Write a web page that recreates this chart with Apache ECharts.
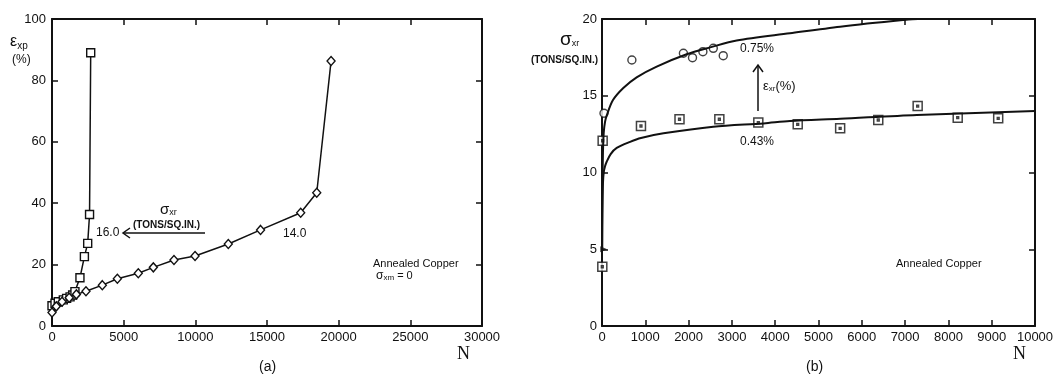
<!DOCTYPE html>
<html><head><meta charset="utf-8">
<script src="https://cdn.jsdelivr.net/npm/echarts@6/dist/echarts.min.js"></script>
<style>html,body{margin:0;padding:0;background:#fff}#c{width:1060px;height:389px}</style>
</head><body><div id="c"></div>
<script>
// ---------- Panel (a): eps_xp (%) vs N ----------
const aXTicks = [0, 5000, 10000, 15000, 20000, 25000, 30000];
const aYTicks = [0, 20, 40, 60, 80, 100];
// sigma_xr = 16.0 tons/sq.in. (squares)
const aSigma16 = [[0,6.6],[210,7.4],[440,7.9],[790,8.5],[1020,9.0],[1260,9.5],[1440,10.1],[1600,11.2],[1950,15.7],[2260,22.6],[2490,26.9],[2620,36.3],[2700,89]];
// sigma_xr = 14.0 tons/sq.in. (diamonds)
const aSigma14 = [[0,4.4],[300,6.4],[700,7.9],[1200,9.2],[1700,10.3],[2370,11.3],[3510,13.3],[4560,15.4],[6020,17.2],[7070,19.1],[8510,21.5],[9980,22.8],[12300,26.7],[14550,31.3],[17350,36.9],[18470,43.4],[19470,86.3]];

// ---------- Panel (b): sigma_xr vs N ----------
const bXTicks = [0,1000,2000,3000,4000,5000,6000,7000,8000,9000,10000];
const bYTicks = [0, 5, 10, 15, 20];
// eps_xr = 0.75 % (circles)
const bEps075 = [[46,13.86],[690,17.33],[1880,17.77],[2090,17.48],[2330,17.87],[2570,18.09],[2800,17.61]];
// eps_xr = 0.43 % (squares)
const bEps043 = [[7,3.86],[15,12.07],[900,13.03],[1790,13.47],[2710,13.47],[3610,13.25],[4520,13.14],[5500,12.88],[6380,13.42],[7290,14.33],[8215,13.57],[9150,13.53]];
// common start point of both curves
const bOrigin = [[40,5]];
// fitted curves
const bCurve075 = [[3,5],[6,7.5],[12,9.5],[22,11.3],[40,12.6],[70,13.3],[108,13.7],[250,14.7],[492,15.5],[800,16.2],[1263,16.9],[1955,17.7],[2500,18.15],[3110,18.6],[4340,19.07],[5500,19.5],[6950,19.93],[7300,20],[8000,20]];
const bCurve043 = [[3,5],[6,6.6],[12,8.1],[22,9.3],[40,10.0],[70,10.4],[108,10.7],[200,11.2],[340,11.6],[650,12.0],[900,12.25],[1420,12.55],[2570,12.98],[3730,13.2],[4340,13.35],[5500,13.5],[7270,13.75],[10000,14.0]];

const FONT = 'Liberation Sans, Arial, sans-serif';
const INK = '#111';
const chart = echarts.init(document.getElementById('c'), null, {renderer: 'canvas'});

function axisCommon(min, max, interval) {
  return {type: 'value', min, max, interval,
    axisLine: {onZero: false, lineStyle: {color: INK, width: 2}},
    axisTick: {inside: true, length: 6, lineStyle: {color: INK, width: 1.5}},
    splitLine: {show: false}};
}
function xAxes(gi, ticks) {
  const min = ticks[0], max = ticks[ticks.length-1], iv = ticks[1]-ticks[0];
  return [
    Object.assign(axisCommon(min, max, iv), {gridIndex: gi, position: 'bottom',
      axisLabel: {color: INK, fontSize: 13, fontFamily: FONT, margin: 5, formatter: v => String(v)}}),
    Object.assign(axisCommon(min, max, iv), {gridIndex: gi, position: 'top',
      axisLabel: {show: false}})
  ];
}
function yAxes(gi, ticks, margin) {
  const min = ticks[0], max = ticks[ticks.length-1], iv = ticks[1]-ticks[0];
  return [
    Object.assign(axisCommon(min, max, iv), {gridIndex: gi, position: 'left',
      axisLabel: {color: INK, fontSize: 13, fontFamily: FONT, margin, formatter: v => String(v)}}),
    Object.assign(axisCommon(min, max, iv), {gridIndex: gi, position: 'right',
      axisLabel: {show: false}})
  ];
}

const dotSquare = 'path://M0,0H10V10H0Z M4,4H6V6H4Z';

const option = {
  backgroundColor: '#fff',
  animation: false,
  grid: [
    {left: 52, top: 19, width: 430, height: 307},
    {left: 602, top: 19, width: 433, height: 307}
  ],
  xAxis: [...xAxes(0, aXTicks), ...xAxes(1, bXTicks)],
  yAxis: [...yAxes(0, aYTicks, 6), ...yAxes(1, bYTicks, 5)],
  series: [
    {type: 'line', xAxisIndex: 0, yAxisIndex: 0, data: aSigma16,
     symbol: 'rect', symbolSize: 8, showAllSymbol: true,
     lineStyle: {color: INK, width: 1.5},
     itemStyle: {color: '#fff', borderColor: INK, borderWidth: 1.4}},
    {type: 'line', xAxisIndex: 0, yAxisIndex: 0, data: aSigma14,
     symbol: 'diamond', symbolSize: [8, 9], showAllSymbol: true,
     lineStyle: {color: INK, width: 1.5},
     itemStyle: {color: '#fff', borderColor: INK, borderWidth: 1.4}},
    {type: 'line', xAxisIndex: 2, yAxisIndex: 2, data: bCurve075,
     symbol: 'none', smooth: 0.3, clip: true,
     lineStyle: {color: INK, width: 2}},
    {type: 'line', xAxisIndex: 2, yAxisIndex: 2, data: bCurve043,
     symbol: 'none', smooth: 0.3, clip: true,
     lineStyle: {color: INK, width: 2}},
    {type: 'scatter', xAxisIndex: 2, yAxisIndex: 2, data: bEps075,
     symbol: 'circle', symbolSize: 8,
     itemStyle: {color: '#fff', borderColor: INK, borderWidth: 1.4}},
    {type: 'scatter', xAxisIndex: 2, yAxisIndex: 2, data: bEps043,
     symbol: dotSquare, symbolSize: 9,
     itemStyle: {color: '#fff', borderColor: INK, borderWidth: 1.5}},
    {type: 'scatter', xAxisIndex: 2, yAxisIndex: 2, data: bOrigin,
     symbol: 'triangle', symbolSize: [6, 7], symbolRotate: -90,
     itemStyle: {color: INK}}
  ],
  graphic: [
    // Panel (a) labels
    {type: 'text', left: 10, top: 34, style: {text: '{e|ε}{s|xp}', rich: {
      e: {fontSize: 16, fontFamily: FONT, fill: INK},
      s: {fontSize: 10, fontFamily: FONT, fill: INK, padding: [8,0,0,0]}}}},
    {type: 'text', left: 12, top: 54, style: {text: '(%)', font: '12px ' + FONT, fill: INK}},
    {type: 'text', left: 96, top: 227, style: {text: '16.0', font: '12px ' + FONT, fill: INK}},
    {type: 'polyline', shape: {points: [[130, 228], [123, 233], [130, 238]]}, style: {stroke: INK, lineWidth: 1.5, fill: null}},
    {type: 'line', shape: {x1: 123, y1: 233, x2: 205, y2: 233}, style: {stroke: INK, lineWidth: 1.5}},
    {type: 'text', left: 160, top: 202, style: {text: '{e|σ}{s|xr}', rich: {
      e: {fontSize: 15, fontFamily: FONT, fill: INK},
      s: {fontSize: 9, fontFamily: FONT, fill: INK, padding: [6,0,0,0]}}}},
    {type: 'text', left: 133, top: 220, style: {text: '(TONS/SQ.IN.)', font: 'bold 10px ' + FONT, fill: INK}},
    {type: 'text', left: 283, top: 228, style: {text: '14.0', font: '12px ' + FONT, fill: INK}},
    {type: 'text', left: 373, top: 258, style: {text: 'Annealed Copper', font: '11px ' + FONT, fill: INK}},
    {type: 'text', left: 376, top: 270, style: {text: '{e|σ}{s|xm}{t| = 0}', rich: {
      e: {fontSize: 12, fontFamily: FONT, fill: INK},
      s: {fontSize: 8, fontFamily: FONT, fill: INK, padding: [4,0,0,0]},
      t: {fontSize: 11, fontFamily: FONT, fill: INK}}}},
    {type: 'text', left: 457, top: 345, style: {text: 'N', font: '18px "Liberation Serif", serif', fill: INK}},
    {type: 'text', left: 259, top: 360, style: {text: '(a)', font: '14px ' + FONT, fill: INK}},
    // Panel (b) labels
    {type: 'text', left: 560, top: 30, style: {text: '{e|σ}{s|xr}', rich: {
      e: {fontSize: 19, fontFamily: FONT, fill: INK},
      s: {fontSize: 9, fontFamily: FONT, fill: INK, padding: [9,0,0,0]}}}},
    {type: 'text', left: 531, top: 55, style: {text: '(TONS/SQ.IN.)', font: 'bold 10px ' + FONT, fill: INK}},
    {type: 'text', left: 740, top: 43, style: {text: '0.75%', font: '12px ' + FONT, fill: INK}},
    {type: 'text', left: 740, top: 136, style: {text: '0.43%', font: '12px ' + FONT, fill: INK}},
    {type: 'line', shape: {x1: 758, y1: 111, x2: 758, y2: 65}, style: {stroke: INK, lineWidth: 1.5}},
    {type: 'polyline', shape: {points: [[753, 72], [758, 65], [763, 72]]}, style: {stroke: INK, lineWidth: 1.5, fill: null}},
    {type: 'text', left: 763, top: 80, style: {text: '{e|ε}{s|xr}{t|(%)}', rich: {
      e: {fontSize: 13, fontFamily: FONT, fill: INK},
      s: {fontSize: 8, fontFamily: FONT, fill: INK, padding: [5,0,0,0]},
      t: {fontSize: 13, fontFamily: FONT, fill: INK}}}},
    {type: 'text', left: 896, top: 258, style: {text: 'Annealed Copper', font: '11px ' + FONT, fill: INK}},
    {type: 'text', left: 1013, top: 345, style: {text: 'N', font: '18px "Liberation Serif", serif', fill: INK}},
    {type: 'text', left: 806, top: 360, style: {text: '(b)', font: '14px ' + FONT, fill: INK}}
  ]
};
chart.setOption(option);
</script>
</body></html>
